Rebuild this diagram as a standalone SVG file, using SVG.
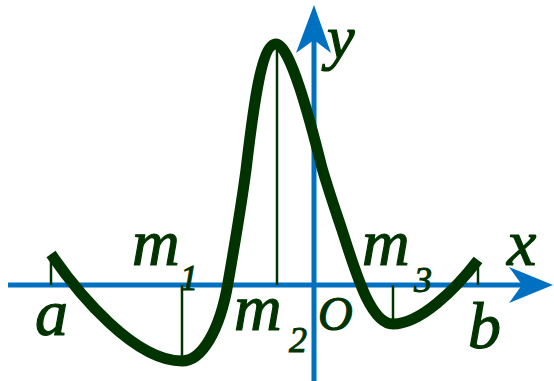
<svg xmlns="http://www.w3.org/2000/svg" width="554" height="381" viewBox="0 0 554 381">
<style>
.axis{stroke:#0070c0;stroke-width:5;fill:none}
.arrow{fill:#0070c0;stroke:none}
.curve{stroke:#003300;stroke-width:11;fill:none;stroke-linecap:butt;stroke-linejoin:round}
.tick{stroke:#003300;stroke-width:2.5;fill:none}
.lbl{font-family:"Liberation Serif","Times New Roman",serif;font-style:italic;fill:#003300;stroke:#003300;stroke-width:1.2;font-size:66px}
.sub{font-family:"Liberation Serif","Times New Roman",serif;font-style:italic;fill:#003300;stroke:#003300;stroke-width:1;font-size:36px}
</style>
<rect width="554" height="381" fill="#ffffff"/>
<g id="axes">
<line class="axis" x1="8" y1="285" x2="525" y2="285"/>
<polygon class="arrow" points="553,285 509,267 522,285 509,303"/>
<line class="axis" x1="314" y1="381" x2="314" y2="33"/>
<polygon class="arrow" points="314,5 296,53 314,40 331,53"/>
</g>
<g id="ticks">
<line class="tick" x1="51" y1="256" x2="51" y2="285"/>
<line class="tick" x1="182" y1="285" x2="182" y2="358"/>
<line class="tick" x1="277" y1="48" x2="277" y2="285"/>
<line class="tick" x1="393" y1="285" x2="393" y2="320"/>
<line class="tick" x1="478" y1="266" x2="478" y2="285"/>
</g>
<g id="curve">
<path class="curve" d="M51,254 C80,296 135,361 182,361 C202,361 220,330 228,283 C232,260 242,200 246,170 C252,120 260,44 276,44 C290,44 310,120 322,168 C330,195 336,212 342,230 C355,270 370,324 393,324 C420,324 455,290 478,260"/>
</g>
<g id="labels">
<text class="lbl" x="35" y="335">a</text>
<text class="lbl" x="132" y="265">m</text>
<text class="sub" x="180" y="290">1</text>
<text class="lbl" x="234" y="330">m</text>
<text class="sub" x="289" y="352">2</text>
<text class="lbl" x="318" y="330" style="font-size:48px">O</text>
<text class="lbl" x="362" y="265">m</text>
<text class="sub" x="414" y="292">3</text>
<text class="lbl" x="507" y="265">x</text>
<text class="lbl" x="468" y="348">b</text>
<text class="lbl" x="327" y="58" style="font-size:62px">y</text>
</g>
</svg>
